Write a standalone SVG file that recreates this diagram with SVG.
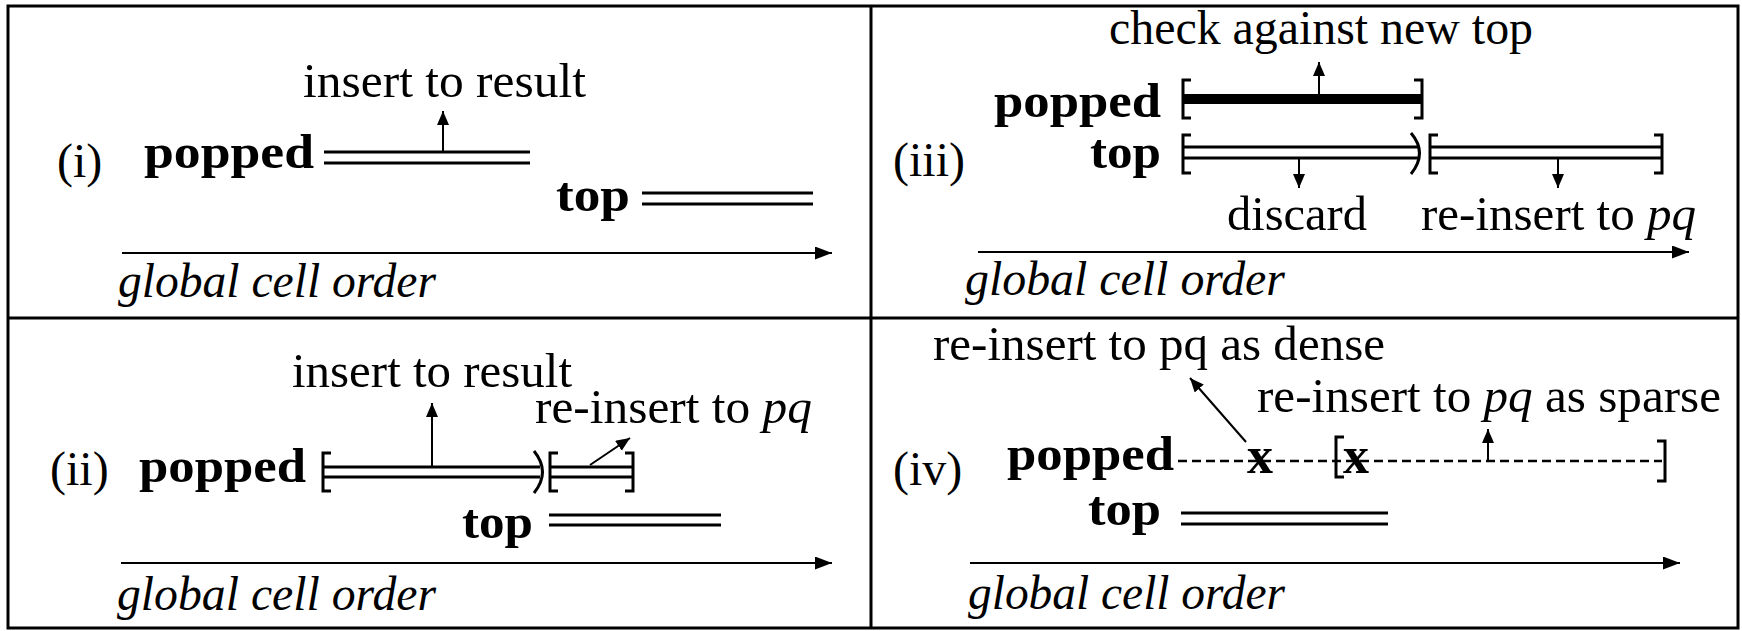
<svg xmlns="http://www.w3.org/2000/svg" width="1742" height="631" viewBox="0 0 1742 631">
<defs>
<marker id="ah" markerUnits="userSpaceOnUse" markerWidth="16" markerHeight="14" refX="14" refY="6" orient="auto"><path d="M0,0 L14,6 L0,12 Z" fill="#000"/></marker>
<marker id="axh" markerUnits="userSpaceOnUse" markerWidth="18" markerHeight="14" refX="17" refY="6.5" orient="auto"><path d="M0,0 L17,6.5 L0,13 Z" fill="#000"/></marker>
<style>
text{font-family:"Liberation Serif","Times New Roman",serif;font-size:48px;fill:#000}
.b{font-weight:bold}
.i{font-style:italic}
.dl{stroke:#000;stroke-width:3;fill:none}
.br{stroke:#000;stroke-width:3;fill:none}
.ar{stroke:#000;stroke-width:2;fill:none;marker-end:url(#ah)}
.ax{stroke:#000;stroke-width:2;fill:none;marker-end:url(#axh)}
.fr{stroke:#000;stroke-width:3;fill:none}
</style>
</defs>
<rect x="0" y="0" width="1742" height="631" fill="#fff"/>
<g id="frame">
<rect class="fr" x="8" y="6" width="1730" height="622"/>
<line class="fr" x1="871" y1="6" x2="871" y2="628"/>
<line class="fr" x1="8" y1="318" x2="1738" y2="318"/>
</g>

<g id="panel-i">
<text x="57" y="177">(i)</text>
<text class="b" x="144" y="168" textLength="170" lengthAdjust="spacingAndGlyphs">popped</text>
<text class="b" x="556" y="211" textLength="74" lengthAdjust="spacingAndGlyphs">top</text>
<text x="303" y="97" textLength="283" lengthAdjust="spacingAndGlyphs">insert to result</text>
<text class="i" x="118" y="297" textLength="318" lengthAdjust="spacingAndGlyphs">global cell order</text>
<path class="dl" d="M324,152 H530 M324,163 H530"/>
<path class="dl" d="M642,193 H813 M642,204 H813"/>
</g>

<g id="panel-iii">
<text x="893" y="176">(iii)</text>
<text x="1109" y="44" textLength="424" lengthAdjust="spacingAndGlyphs">check against new top</text>
<text class="b" x="994" y="117" textLength="167" lengthAdjust="spacingAndGlyphs">popped</text>
<text class="b" x="1090" y="168" textLength="71" lengthAdjust="spacingAndGlyphs">top</text>
<text x="1227" y="230" textLength="140" lengthAdjust="spacingAndGlyphs">discard</text>
<text x="1421" y="230" textLength="275" lengthAdjust="spacingAndGlyphs">re-insert to <tspan class="i">pq</tspan></text>
<text class="i" x="965" y="295" textLength="320" lengthAdjust="spacingAndGlyphs">global cell order</text>
<path class="br" d="M1191,80 H1183 V118 H1191 M1414,80 H1422 V118 H1414"/>
<line x1="1183" y1="99" x2="1422" y2="99" stroke="#000" stroke-width="10"/>
<path class="br" d="M1191,135 H1183 V173 H1191"/>
<path class="dl" d="M1183,147 H1420 M1183,158 H1420"/>
<path class="br" d="M1411,133 Q1428,153 1411,174"/>
<path class="br" d="M1438,135 H1430 V173 H1438 M1654,135 H1662 V173 H1654"/>
<path class="dl" d="M1430,147 H1662 M1430,158 H1662"/>
</g>

<g id="panel-ii">
<text x="50" y="485">(ii)</text>
<text x="292" y="387" textLength="280" lengthAdjust="spacingAndGlyphs">insert to result</text>
<text x="535" y="423" textLength="277" lengthAdjust="spacingAndGlyphs">re-insert to <tspan class="i">pq</tspan></text>
<text class="b" x="139" y="482" textLength="167" lengthAdjust="spacingAndGlyphs">popped</text>
<text class="b" x="462" y="538" textLength="71" lengthAdjust="spacingAndGlyphs">top</text>
<text class="i" x="117" y="610" textLength="319" lengthAdjust="spacingAndGlyphs">global cell order</text>
<path class="br" d="M331,453 H323 V491 H331"/>
<path class="dl" d="M323,467 H540 M323,477 H540"/>
<path class="br" d="M534,451 Q551,472 534,493"/>
<path class="br" d="M558,453 H550 V491 H558 M625,453 H633 V491 H625"/>
<path class="dl" d="M550,467 H633 M550,477 H633"/>
<path class="dl" d="M549,515 H721 M549,525 H721"/>
</g>

<g id="panel-iv">
<text x="893" y="485">(iv)</text>
<text x="933" y="360" textLength="452" lengthAdjust="spacingAndGlyphs">re-insert to pq as dense</text>
<text x="1257" y="412" textLength="464" lengthAdjust="spacingAndGlyphs">re-insert to <tspan class="i">pq</tspan> as sparse</text>
<text class="b" x="1007" y="470" textLength="167" lengthAdjust="spacingAndGlyphs">popped</text>
<text class="b" x="1088" y="525" textLength="73" lengthAdjust="spacingAndGlyphs">top</text>
<text class="i" x="968" y="609" textLength="317" lengthAdjust="spacingAndGlyphs">global cell order</text>
<line x1="1178" y1="461" x2="1662" y2="461" stroke="#000" stroke-width="2.5" stroke-dasharray="9,5"/>
<text class="b" x="1247" y="473" style="font-size:52px">x</text>
<text class="b" x="1343" y="473" style="font-size:52px">x</text>
<path class="br" d="M1344,437 H1336 V477 H1344"/>
<path class="br" d="M1657,441 H1665 V481 H1657"/>
<path class="dl" d="M1181,513 H1388 M1181,524 H1388"/>
</g>

<g id="connectors">
<line class="ar" x1="443" y1="151" x2="443" y2="111"/>
<line class="ax" x1="122" y1="253" x2="832" y2="253"/>
<line class="ar" x1="1319" y1="95" x2="1319" y2="62"/>
<line class="ar" x1="1299" y1="158" x2="1299" y2="188"/>
<line class="ar" x1="1558" y1="158" x2="1558" y2="188"/>
<line class="ax" x1="978" y1="252" x2="1689" y2="252"/>
<line class="ar" x1="432" y1="467" x2="432" y2="403"/>
<line class="ar" x1="590" y1="465" x2="630" y2="438"/>
<line class="ax" x1="121" y1="563" x2="832" y2="563"/>
<line class="ar" x1="1246" y1="442" x2="1190" y2="378"/>
<line class="ar" x1="1488" y1="461" x2="1488" y2="429"/>
<line class="ax" x1="970" y1="563" x2="1680" y2="563"/>
</g>
</svg>
